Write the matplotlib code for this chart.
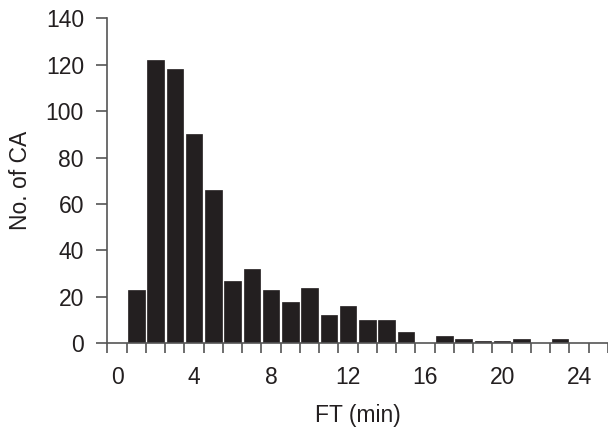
import numpy as np
import matplotlib
matplotlib.use('Agg')
import matplotlib.pyplot as plt

# FT bins (minutes) and number of CA in each bin
ft_bins = np.arange(0, 26)
n_ca = [0, 23, 122, 118, 90, 66, 27, 32, 23, 18, 24, 12, 16,
        10, 10, 5, 0, 3, 2, 1, 1, 2, 0, 2, 0, 0]
x_labels = [0, 4, 8, 12, 16, 20, 24]
y_ticks = np.arange(0, 141, 20)

plt.rcParams['font.family'] = ['Liberation Sans', 'DejaVu Sans']
axis_col = '#555555'
text_col = '#231f20'

fig = plt.figure(figsize=(6.08, 4.41), dpi=100)
ax = fig.add_axes([0.1768, 0.2215, 0.8232, 0.737])

ax.bar(ft_bins, n_ca, width=0.86, color='#231f20', edgecolor='#231f20', linewidth=0.5)

ax.set_xlim(-0.5, 25.5)
ax.set_ylim(0, 140)

# category-style axis: tick marks between bins, labels centred on bins
ax.set_xticks(x_labels)
ax.set_xticklabels([str(v) for v in x_labels])
ax.set_xticks(np.arange(-0.5, 25.6, 1), minor=True)
ax.tick_params(axis='x', which='major', length=0, pad=16, labelsize=16.5, labelcolor=text_col)
ax.tick_params(axis='x', which='minor', length=7, width=1.2, color=axis_col, direction='out')
ax.set_yticks(y_ticks)
ax.tick_params(axis='y', length=8, width=1.2, color=axis_col, direction='out', pad=9,
               labelsize=16.5, labelcolor=text_col)

for s in ['top', 'right']:
    ax.spines[s].set_visible(False)
for s in ['left', 'bottom']:
    ax.spines[s].set_color(axis_col)
    ax.spines[s].set_linewidth(1.2)

ax.set_xlabel('FT (min)', fontsize=16.5, color=text_col, labelpad=11)
ax.set_ylabel('No. of CA', fontsize=16.5, color=text_col, labelpad=10)

fig.savefig('out.png', dpi=100)
